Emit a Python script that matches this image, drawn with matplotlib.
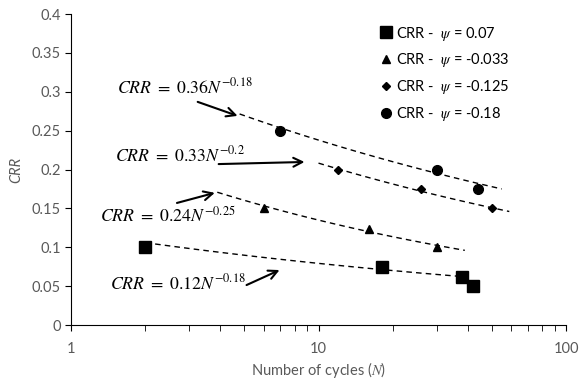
import matplotlib
matplotlib.use("Agg")
import matplotlib.pyplot as plt
import numpy as np

plt.rcParams.update({
    "font.family": ["Lato", "DejaVu Sans"],
    "mathtext.fontset": "stix",
    "font.size": 10,
})

# data
n_sq = [2, 18, 38, 42]
crr_sq = [0.1, 0.074, 0.062, 0.05]
n_tri = [6, 16, 30]
crr_tri = [0.15, 0.123, 0.1]
n_dia = [12, 26, 50]
crr_dia = [0.2, 0.175, 0.15]
n_cir = [7, 30, 44]
crr_cir = [0.25, 0.2, 0.175]

labels = [r"CRR -  $\psi$ = 0.07", r"CRR -  $\psi$ = -0.033",
          r"CRR -  $\psi$ = -0.125", r"CRR -  $\psi$ = -0.18"]

# fitted power laws a*N^b and the span drawn
fit_a = [0.12, 0.24, 0.33, 0.36]
fit_b = [-0.18, -0.25, -0.2, -0.18]
fit_lo = [2.0, 3.9, 10.0, 4.8]
fit_hi = [38.0, 39.0, 59.0, 55.0]
fit_text = [r"$CRR\ =\ 0.12N^{-0.18}$", r"$CRR\ =\ 0.24N^{-0.25}$",
            r"$CRR\ =\ 0.33N^{-0.2}$", r"$CRR\ =\ 0.36N^{-0.18}$"]

GRAY = "#595959"

fig = plt.figure(figsize=(5.79, 3.83), dpi=100)
ax = fig.add_axes([0.1226, 0.1514, 0.855, 0.812])

series = [(n_sq, crr_sq, "s", 8), (n_tri, crr_tri, "^", 6),
          (n_dia, crr_dia, "D", 4.5), (n_cir, crr_cir, "o", 7)]
for (nx, cy, mk, ms), lab in zip(series, labels):
    ax.plot(nx, cy, linestyle="none", marker=mk, markersize=ms,
            color="black", label=lab, zorder=3)

for a, b, lo, hi in zip(fit_a, fit_b, fit_lo, fit_hi):
    nn = np.logspace(np.log10(lo), np.log10(hi), 100)
    ax.plot(nn, a * nn ** b, color="black", linewidth=1.0,
            dashes=(4, 3), zorder=2)

# equation labels with arrows (text pos, arrow tail, arrow head) in data coords
ann = [((1.44, 0.055), (5.12, 0.0514), (6.96, 0.0707)),
       ((1.31, 0.1415), (2.68, 0.157), (3.81, 0.170)),
       ((1.50, 0.219), (3.95, 0.207), (8.78, 0.2097)),
       ((1.53, 0.307), (3.25, 0.287), (4.71, 0.269))]
for txt, (tp, tail, head) in zip(fit_text, ann):
    ax.text(tp[0], tp[1], txt, fontsize=12.8, ha="left", va="center")
    ax.annotate("", xy=head, xytext=tail,
                arrowprops=dict(arrowstyle="->", color="black", lw=1.5,
                                mutation_scale=16, shrinkA=0, shrinkB=0))

ax.set_xscale("log")
ax.set_xlim(1, 100)
ax.set_ylim(0, 0.4)
ax.set_yticks(np.arange(0, 0.401, 0.05))
ax.set_yticklabels(["0", "0.05", "0.1", "0.15", "0.2", "0.25", "0.3", "0.35", "0.4"])
ax.set_xticks([1, 10, 100])
ax.set_xticklabels(["1", "10", "100"])
ax.xaxis.set_minor_formatter(matplotlib.ticker.NullFormatter())

for s in ["top", "right"]:
    ax.spines[s].set_visible(False)
ax.tick_params(axis="both", which="both", direction="out", length=4,
               colors="black", labelcolor=GRAY, labelsize=10.5)
ax.tick_params(axis="x", pad=8)

ax.set_ylabel("CRR", style="italic", color=GRAY, fontsize=10.5, labelpad=6)
ax.set_xlabel("Number of cycles ($\\mathit{N}$)", color=GRAY, fontsize=10.5,
              labelpad=3)

ax.legend(loc="upper left", bbox_to_anchor=(0.61, 0.985), frameon=False,
          fontsize=10.5, handletextpad=0.2, labelspacing=0.6,
          handlelength=1.0, borderaxespad=0)

fig.savefig("out.png", dpi=100)
plt.close(fig)
